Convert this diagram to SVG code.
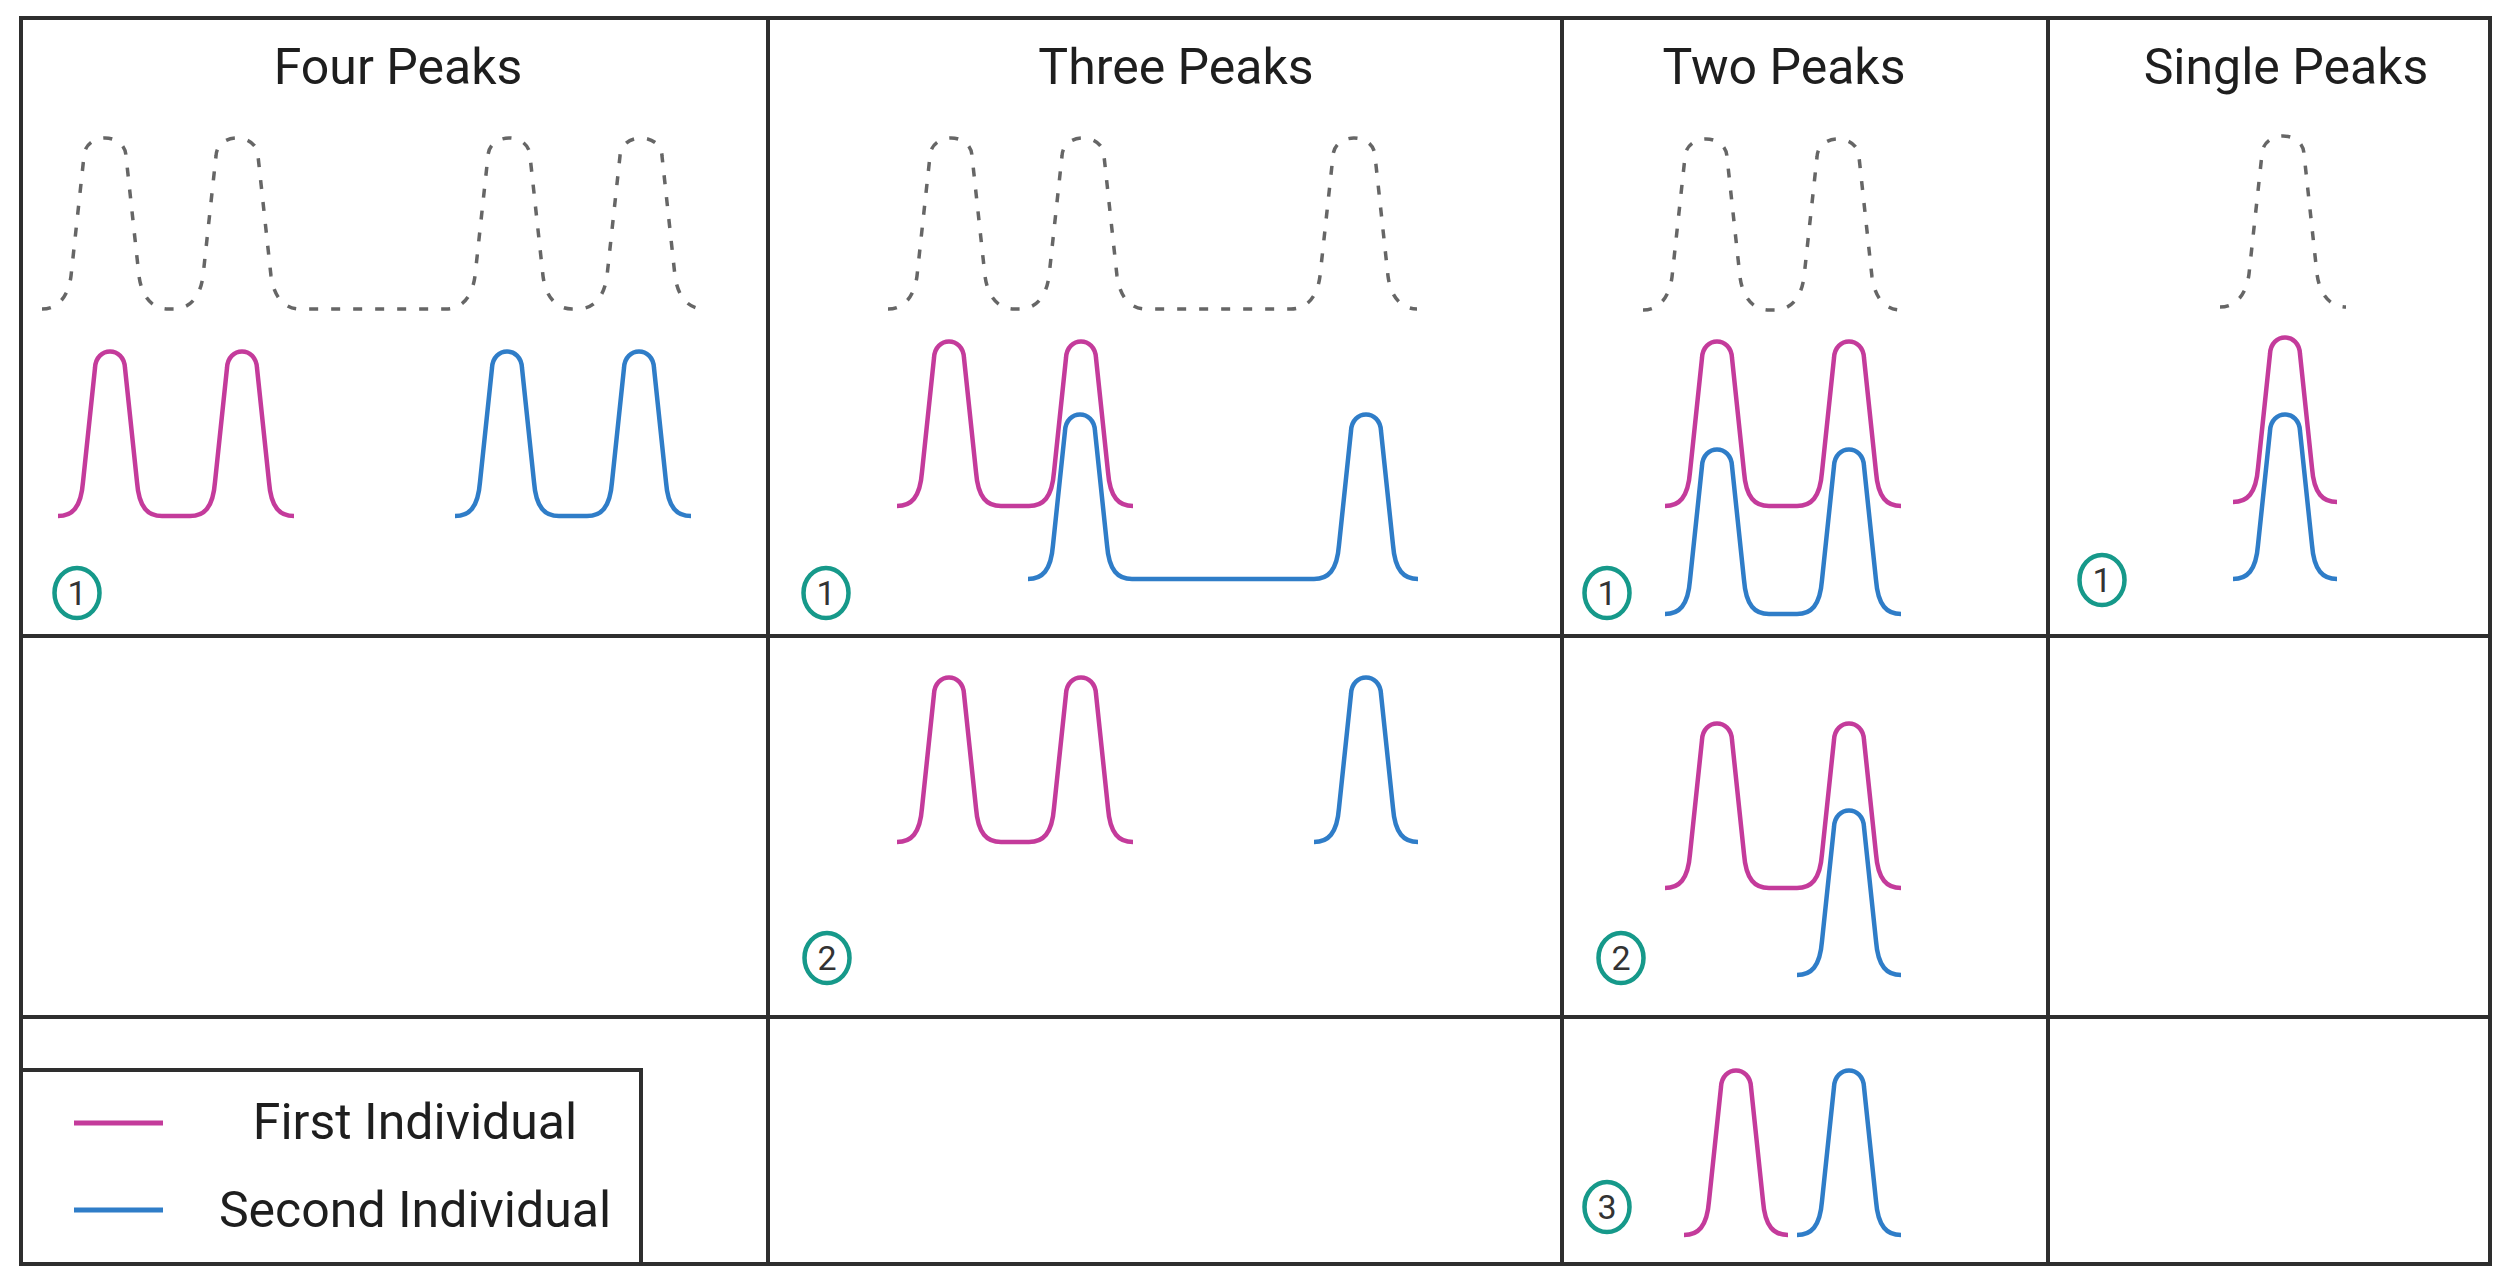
<svg xmlns="http://www.w3.org/2000/svg" width="2508" height="1283" viewBox="0 0 2508 1283">
<style>
.grid{stroke:#2e2e2e;stroke-width:4;fill:none;stroke-linecap:square}
.title{font-family:Roboto,"Liberation Sans",sans-serif;font-size:50px;fill:#1e1e1e;text-anchor:middle}
.leg{font-family:Roboto,"Liberation Sans",sans-serif;font-size:50px;fill:#1e1e1e;text-anchor:middle}
.dash{fill:none;stroke:#666;stroke-width:3.5;stroke-dasharray:9 13}
.pink{fill:none;stroke:#C43B9B;stroke-width:4.5;stroke-linejoin:round}
.blue{fill:none;stroke:#2F7DC8;stroke-width:4.5;stroke-linejoin:round}
.badge{fill:none;stroke:#16998A;stroke-width:4.5}
.num{font-family:Roboto,"Liberation Sans",sans-serif;font-size:34px;fill:#333;text-anchor:middle}
</style>
<rect width="2508" height="1283" fill="#fff"/>

<g id="grid-lines">
<rect class="grid" x="21" y="18" width="2469" height="1246"/>
<line class="grid" x1="768" y1="18" x2="768" y2="1264"/>
<line class="grid" x1="1562" y1="18" x2="1562" y2="1264"/>
<line class="grid" x1="2048" y1="18" x2="2048" y2="1264"/>
<line class="grid" x1="21" y1="636" x2="2490" y2="636"/>
<line class="grid" x1="21" y1="1017" x2="2490" y2="1017"/>
</g>

<g id="four-peaks">
<text class="title" x="398" y="84">Four Peaks</text>
<path class="dash" d="M42,309 c14,0 26,-10 29,-33 l13,-120 c1,-24 41,-24 42,0 l13,120 c3,23 15,33 29,33 h6 c14,0 26,-10 29,-33 l13,-120 c1,-24 41,-24 42,0 l13,120 c3,23 15,33 29,33 h146 c14,0 26,-10 29,-33 l13,-120 c1,-24 41,-24 42,0 l13,120 c3,23 15,33 29,33 h6 c14,0 26,-10 29,-33 l13,-120 c1,-24 41,-24 42,0 l13,120 c3,23 15,33 29,33"/>
<path class="pink" d="M58,516 c14,0 23,-8 25,-34 l12,-114 c1,-22 29,-22 30,0 l12,114 c2,26 11,34 25,34 h28 c14,0 23,-8 25,-34 l12,-114 c1,-22 29,-22 30,0 l12,114 c2,26 11,34 25,34"/>
<path class="blue" d="M455,516 c14,0 23,-8 25,-34 l12,-114 c1,-22 29,-22 30,0 l12,114 c2,26 11,34 25,34 h28 c14,0 23,-8 25,-34 l12,-114 c1,-22 29,-22 30,0 l12,114 c2,26 11,34 25,34"/>
<g id="four-badge-1"><ellipse class="badge" cx="77" cy="593" rx="22.5" ry="25"/><text class="num" x="77" y="605">1</text></g>
</g>

<g id="three-peaks">
<text class="title" x="1176" y="84">Three Peaks</text>
<path class="dash" d="M888,309 c14,0 26,-10 29,-33 l13,-120 c1,-24 41,-24 42,0 l13,120 c3,23 15,33 29,33 h6 c14,0 26,-10 29,-33 l13,-120 c1,-24 41,-24 42,0 l13,120 c3,23 15,33 29,33 h145 c14,0 26,-10 29,-33 l13,-120 c1,-24 41,-24 42,0 l13,120 c3,23 15,33 29,33"/>
<path class="pink" d="M897,506 c14,0 23,-8 25,-34 l12,-114 c1,-22 29,-22 30,0 l12,114 c2,26 11,34 25,34 h28 c14,0 23,-8 25,-34 l12,-114 c1,-22 29,-22 30,0 l12,114 c2,26 11,34 25,34"/>
<path class="blue" d="M1028,579 c14,0 23,-8 25,-34 l12,-114 c1,-22 29,-22 30,0 l12,114 c2,26 11,34 25,34 h182 c14,0 23,-8 25,-34 l12,-114 c1,-22 29,-22 30,0 l12,114 c2,26 11,34 25,34"/>
<g id="three-badge-1"><ellipse class="badge" cx="826" cy="593" rx="22.5" ry="25"/><text class="num" x="826" y="605">1</text></g>
</g>

<g id="three-peaks-2">
<path class="pink" d="M897,842 c14,0 23,-8 25,-34 l12,-114 c1,-22 29,-22 30,0 l12,114 c2,26 11,34 25,34 h28 c14,0 23,-8 25,-34 l12,-114 c1,-22 29,-22 30,0 l12,114 c2,26 11,34 25,34"/>
<path class="blue" d="M1314,842 c14,0 23,-8 25,-34 l12,-114 c1,-22 29,-22 30,0 l12,114 c2,26 11,34 25,34"/>
<g id="three-badge-2"><ellipse class="badge" cx="827" cy="958" rx="22.5" ry="25"/><text class="num" x="827" y="970">2</text></g>
</g>

<g id="two-peaks">
<text class="title" x="1784" y="84">Two Peaks</text>
<path class="dash" d="M1643,310 c14,0 26,-10 29,-33 l13,-120 c1,-24 41,-24 42,0 l13,120 c3,23 15,33 29,33 h6 c14,0 26,-10 29,-33 l13,-120 c1,-24 41,-24 42,0 l13,120 c3,23 15,33 29,33"/>
<path class="pink" d="M1665,506 c14,0 23,-8 25,-34 l12,-114 c1,-22 29,-22 30,0 l12,114 c2,26 11,34 25,34 h28 c14,0 23,-8 25,-34 l12,-114 c1,-22 29,-22 30,0 l12,114 c2,26 11,34 25,34"/>
<path class="blue" d="M1665,614 c14,0 23,-8 25,-34 l12,-114 c1,-22 29,-22 30,0 l12,114 c2,26 11,34 25,34 h28 c14,0 23,-8 25,-34 l12,-114 c1,-22 29,-22 30,0 l12,114 c2,26 11,34 25,34"/>
<g id="two-badge-1"><ellipse class="badge" cx="1607" cy="593" rx="22.5" ry="25"/><text class="num" x="1607" y="605">1</text></g>
</g>

<g id="two-peaks-2">
<path class="pink" d="M1665,888 c14,0 23,-8 25,-34 l12,-114 c1,-22 29,-22 30,0 l12,114 c2,26 11,34 25,34 h28 c14,0 23,-8 25,-34 l12,-114 c1,-22 29,-22 30,0 l12,114 c2,26 11,34 25,34"/>
<path class="blue" d="M1797,975 c14,0 23,-8 25,-34 l12,-114 c1,-22 29,-22 30,0 l12,114 c2,26 11,34 25,34"/>
<g id="two-badge-2"><ellipse class="badge" cx="1621" cy="958" rx="22.5" ry="25"/><text class="num" x="1621" y="970">2</text></g>
</g>

<g id="two-peaks-3">
<path class="pink" d="M1684,1235 c14,0 23,-8 25,-34 l12,-114 c1,-22 29,-22 30,0 l12,114 c2,26 11,34 25,34"/>
<path class="blue" d="M1797,1235 c14,0 23,-8 25,-34 l12,-114 c1,-22 29,-22 30,0 l12,114 c2,26 11,34 25,34"/>
<g id="two-badge-3"><ellipse class="badge" cx="1607" cy="1207" rx="22.5" ry="25"/><text class="num" x="1607" y="1219">3</text></g>
</g>

<g id="single-peaks">
<text class="title" x="2286" y="84">Single Peaks</text>
<path class="dash" d="M2220,307 c14,0 26,-10 29,-33 l13,-120 c1,-24 41,-24 42,0 l13,120 c3,23 15,33 29,33"/>
<path class="pink" d="M2233,502 c14,0 23,-8 25,-34 l12,-114 c1,-22 29,-22 30,0 l12,114 c2,26 11,34 25,34"/>
<path class="blue" d="M2233,579 c14,0 23,-8 25,-34 l12,-114 c1,-22 29,-22 30,0 l12,114 c2,26 11,34 25,34"/>
<g id="single-badge-1"><ellipse class="badge" cx="2102" cy="580" rx="22.5" ry="25"/><text class="num" x="2102" y="592">1</text></g>
</g>

<g id="legend">
<path class="grid" d="M21,1070 H641 V1264"/>
<line x1="74" y1="1123" x2="163" y2="1123" stroke="#C43B9B" stroke-width="5"/>
<line x1="74" y1="1210" x2="163" y2="1210" stroke="#2F7DC8" stroke-width="5"/>
<text class="leg" x="415" y="1139">First Individual</text>
<text class="leg" x="415" y="1227">Second Individual</text>
</g>
</svg>
